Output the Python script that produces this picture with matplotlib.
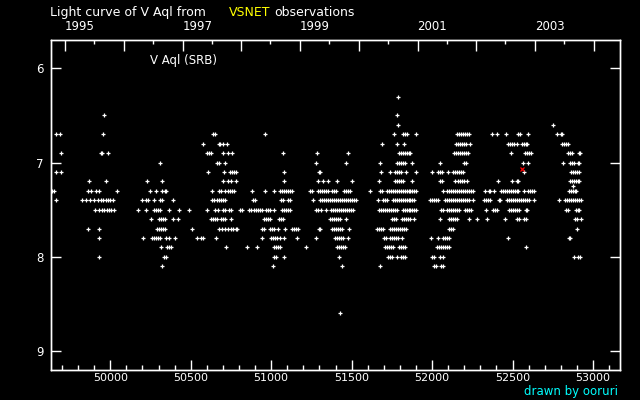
import matplotlib
matplotlib.use('Agg')
import matplotlib.pyplot as plt
from matplotlib.ticker import FixedLocator, MultipleLocator

# ---- data: JD-2400000 of observations, grouped by visual magnitude ----
m63 = [51790]
m65 = [49964, 51783]
m66 = [51790, 52752]
m67 = [49665, 49690, 49957, 50639, 50651, 50964, 51765, 51821, 51833, 51846, 51901,
       52156, 52168, 52181, 52193, 52206, 52218, 52231, 52374, 52405, 52460, 52535,
       52547, 52597, 52777, 52802, 52808]
m68 = [50578, 50678, 50684, 50703, 50728, 51690, 51783, 51827, 52150, 52162, 52175,
       52187, 52200, 52212, 52237, 52473, 52485, 52498, 52510, 52529, 52560, 52572,
       52585, 52591, 52808, 52821, 52833, 52846]
m69 = [49696, 49941, 49951, 49988, 50603, 50616, 50628, 50703, 50734, 50758, 51075,
       51287, 51479, 51796, 51808, 51821, 51833, 51846, 51858, 51864, 52137, 52150,
       52162, 52175, 52187, 52200, 52212, 52224, 52491, 52578, 52591, 52603, 52616,
       52846, 52858, 52870, 52914, 52920]
m70 = [50311, 50665, 50674, 50715, 51280, 51467, 51678, 51783, 51796, 51808, 51821,
       51833, 51876, 52050, 52200, 52212, 52566, 52597, 52814, 52858, 52870, 52883,
       52908, 52914]
m71 = [49665, 49696, 50610, 50709, 50746, 50758, 50771, 50783, 51082, 51299, 51305,
       51684, 51740, 51771, 51783, 51796, 51808, 51839, 51901, 52001, 52038, 52050,
       52063, 52100, 52131, 52144, 52156, 52168, 52181, 52193, 52572, 52864, 52877,
       52889, 52901, 52914]
m72 = [49870, 49976, 50231, 50324, 50703, 50734, 50752, 50783, 51082, 51293, 51324,
       51355, 51411, 51504, 51672, 51771, 51783, 51796, 51808, 51821, 51876, 52050,
       52063, 52144, 52162, 52175, 52187, 52200, 52218, 52411, 52498, 52529, 52535,
       52858, 52870, 52883, 52895, 52908, 52914]
m725 = [52877]
m73 = [49640, 49651, 49864, 49883, 49914, 49928, 50044, 50249, 50286, 50324, 50340,
       50349, 50634, 50678, 50690, 50715, 50730, 50746, 50758, 50771, 50883, 50964,
       51019, 51057, 51069, 51082, 51094, 51106, 51119, 51131, 51243, 51256, 51293,
       51305, 51317, 51330, 51342, 51355, 51380, 51392, 51404, 51454, 51467, 51479,
       51491, 51616, 51678, 51690, 51721, 51734, 51746, 51759, 51771, 51783, 51796,
       51808, 51821, 51833, 51846, 51858, 51864, 51876, 51889, 51901, 52069, 52094,
       52106, 52119, 52131, 52144, 52156, 52168, 52181, 52193, 52206, 52218, 52231,
       52243, 52255, 52330, 52355, 52361, 52386, 52429, 52442, 52454, 52467, 52479,
       52491, 52504, 52516, 52529, 52535, 52572, 52597, 52609, 52622, 52634, 52852,
       52864, 52877, 52889, 52895]
m74 = [49665, 49827, 49852, 49877, 49901, 49926, 49943, 49957, 49972, 49986, 50001,
       50019, 50200, 50224, 50235, 50274, 50311, 50324, 50392, 50634, 50647, 50661,
       50678, 50690, 50703, 50715, 50889, 50901, 51063, 51075, 51106, 51119, 51262,
       51305, 51317, 51330, 51342, 51355, 51367, 51380, 51392, 51404, 51417, 51429,
       51442, 51454, 51467, 51479, 51491, 51504, 51516, 51529, 51665, 51696, 51709,
       51721, 51759, 51771, 51783, 51796, 51808, 51821, 51833, 51846, 51858, 51864,
       51876, 51889, 51988, 52001, 52013, 52026, 52038, 52082, 52094, 52106, 52119,
       52131, 52144, 52156, 52168, 52181, 52193, 52206, 52218, 52231, 52255, 52324,
       52336, 52349, 52361, 52417, 52423, 52467, 52479, 52491, 52504, 52516, 52529,
       52541, 52554, 52566, 52578, 52591, 52603, 52634, 52790, 52827, 52839, 52852,
       52864, 52877, 52889, 52901, 52914, 52926]
m75 = [49908, 49933, 49949, 49964, 49978, 49993, 50007, 50022, 50175, 50224, 50274,
       50286, 50299, 50311, 50367, 50429, 50487, 50603, 50653, 50672, 50703, 50713,
       50740, 50752, 50808, 50821, 50864, 50877, 50895, 50908, 50920, 50932, 50945,
       50970, 50982, 50995, 51019, 51069, 51082, 51094, 51106, 51119, 51280, 51293,
       51311, 51342, 51373, 51386, 51398, 51411, 51423, 51436, 51448, 51460, 51473,
       51485, 51498, 51510, 51672, 51684, 51696, 51709, 51721, 51734, 51746, 51759,
       51771, 51783, 51821, 51833, 51846, 51858, 51864, 51876, 51889, 51901, 52057,
       52069, 52094, 52106, 52119, 52131, 52144, 52156, 52168, 52206, 52218, 52231,
       52243, 52336, 52380, 52392, 52405, 52479, 52491, 52504, 52516, 52529, 52541,
       52585, 52591, 52833, 52846, 52895, 52908, 52914]
m76 = [50255, 50305, 50318, 50330, 50342, 50392, 50423, 50628, 50641, 50653, 50665,
       50690, 50703, 50715, 50752, 50957, 50970, 50982, 50995, 51051, 51063, 51075,
       51367, 51380, 51392, 51404, 51417, 51429, 51467, 51752, 51765, 51777, 51815,
       51827, 51839, 51852, 51864, 51889, 52050, 52106, 52119, 52131, 52144, 52156,
       52231, 52280, 52342, 52454, 52529, 52541, 52572, 52585, 52889, 52901, 52926]
m77 = [49864, 49933, 50293, 50305, 50318, 50330, 50342, 50510, 50678, 50697, 50715,
       50734, 50752, 50765, 50783, 50790, 50945, 50957, 50995, 51007, 51019, 51044,
       51088, 51131, 51144, 51156, 51169, 51299, 51305, 51380, 51392, 51404, 51417,
       51429, 51442, 51485, 51659, 51672, 51684, 51696, 51740, 51752, 51765, 51777,
       51790, 51802, 51815, 51827, 51839, 52106, 52119, 52131, 52901]
m78 = [49933, 50206, 50262, 50274, 50286, 50299, 50311, 50349, 50367, 50405, 50541,
       50566, 50578, 50659, 50945, 51001, 51013, 51026, 51038, 51057, 51082, 51162,
       51280, 51398, 51411, 51423, 51436, 51448, 51479, 51703, 51715, 51740, 51752,
       51765, 51777, 51790, 51815, 51995, 52038, 52069, 52082, 52094, 52106, 52473,
       52852, 52858]
m79 = [50318, 50355, 50367, 50380, 50721, 50852, 50914, 51019, 51032, 51044, 51057,
       51218, 51411, 51423, 51436, 51448, 51460, 51709, 51721, 51734, 51746, 51759,
       51796, 51808, 51821, 51833, 52032, 52044, 52057, 52069, 52082, 52094, 52106,
       52585]
m80 = [49933, 50336, 50349, 51019, 51032, 51082, 51423, 51728, 51740, 51752, 51783,
       51808, 51821, 51833, 52001, 52013, 52050, 52069, 52883, 52908, 52920]
m81 = [50324, 51013, 51442, 51678, 52013, 52026, 52057, 52069]
m86 = [51428]

row_mags = [6.3, 6.5, 6.6, 6.7, 6.8, 6.9, 7.0, 7.1, 7.2, 7.25, 7.3, 7.4, 7.5, 7.6,
            7.7, 7.8, 7.9, 8.0, 8.1, 8.6]
row_jds = [m63, m65, m66, m67, m68, m69, m70, m71, m72, m725, m73, m74, m75, m76,
           m77, m78, m79, m80, m81, m86]

red_jd = [52556]
red_mag = [7.07]

x_ticks = [50000, 50500, 51000, 51500, 52000, 52500, 53000]
x_labels = ['50000', '50500', '51000', '51500', '52000', '52500', '53000']
y_ticks = [6, 7, 8, 9]
y_labels = ['6', '7', '8', '9']
year_jd = [49718, 50083, 50449, 50814, 51179, 51544, 51910, 52275, 52640, 53005]
year_labels = ['1995', '', '1997', '', '1999', '', '2001', '', '2003', '']
midyear_jd = [49899, 50265, 50630, 50995, 51360, 51726, 52091, 52456, 52821]

# ---- build point list ----
jd = []
mag = []
for m, lst in zip(row_mags, row_jds):
    jd.extend(lst)
    mag.extend([m] * len(lst))

fig = plt.figure(figsize=(6.4, 4.0), dpi=100, facecolor='black')
ax = fig.add_axes([0.079, 0.075, 0.890, 0.825], facecolor='black')
ax.plot(jd, mag, linestyle='none', marker='+', color='white', ms=3.2, mew=0.9)
ax.plot(red_jd, red_mag, linestyle='none', marker='x', color='red', ms=3.0, mew=0.9)

ax.set_xlim(49629, 53169)
ax.set_ylim(9.2, 5.7)

for s in ax.spines.values():
    s.set_color('white')
    s.set_linewidth(1.0)

ax.set_xticks(x_ticks)
ax.set_xticklabels(x_labels)
ax.xaxis.set_minor_locator(MultipleLocator(100))
ax.set_yticks(y_ticks)
ax.set_yticklabels(y_labels)

ax.tick_params(axis='x', which='major', direction='in', length=7.2, width=1.0,
               colors='white', labelsize=8, pad=2, top=False)
ax.tick_params(axis='x', which='minor', direction='in', length=3.6, width=1.0,
               colors='white', top=False)
ax.tick_params(axis='y', which='major', direction='in', length=7.2, width=1.0,
               colors='white', labelsize=8.5, pad=5, right=True)

ax2 = ax.twiny()
ax2.set_xlim(ax.get_xlim())
ax2.set_xticks(year_jd)
ax2.set_xticklabels(year_labels, ha='left')
ax2.xaxis.set_minor_locator(FixedLocator(midyear_jd))
ax2.tick_params(axis='x', which='major', direction='in', length=7.7, width=1.0,
                colors='white', labelsize=8.5, pad=5)
ax2.tick_params(axis='x', which='minor', direction='in', length=3.0, width=1.0,
                colors='white')
for s in ax2.spines.values():
    s.set_color('white')
    s.set_linewidth(1.0)

ty = 1 - 12.3 / 400
fig.text(50 / 640, ty, 'Light curve of V Aql from', color='white', fontsize=9,
         ha='left', va='center')
fig.text(229.4 / 640, ty, 'VSNET', color='#ffff00', fontsize=9, ha='left', va='center')
fig.text(274.7 / 640, ty, 'observations', color='white', fontsize=9,
         ha='left', va='center')

ax.text(0.175, 0.939, 'V Aql (SRB)', transform=ax.transAxes, color='white',
        fontsize=8.5, ha='left', va='center')

fig.text(617.5 / 640, 1 - 392 / 400, 'drawn by ooruri', color='#00ffff', fontsize=8.5,
         ha='right', va='center')

fig.savefig('out.png', dpi=100, facecolor='black')
